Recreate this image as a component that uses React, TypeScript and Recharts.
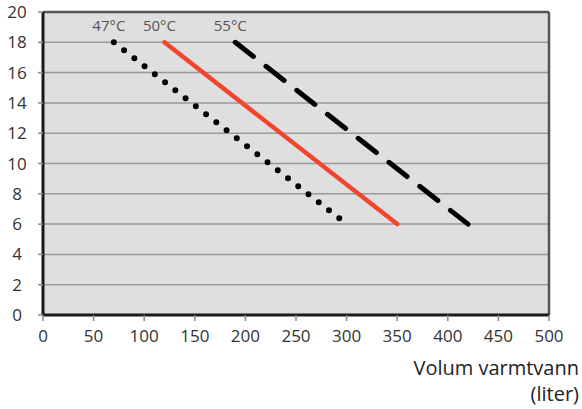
import { CartesianGrid, Line, LineChart, ReferenceLine, XAxis, YAxis } from "recharts"

const temperatures = ["47°C", "50°C", "55°C"]
const volume47 = [70, 300]
const volume50 = [120, 350]
const volume55 = [190, 420]
const yValues = [18, 6]
const xTicks = [0, 50, 100, 150, 200, 250, 300, 350, 400, 450, 500]
const yTicks = [0, 2, 4, 6, 8, 10, 12, 14, 16, 18, 20]

const toPoints = (volumes: number[]) =>
    volumes.map((v, i) => ({ volum: v, verdi: yValues[i] }))

const font = "'Open Sans', Roboto, sans-serif"

const seriesLabel = (name: string) => (props: any) => {
    if (props.index !== 0) return <g />
    return (
        <text
            x={props.x - 5}
            y={props.y - 11}
            textAnchor="middle"
            fontSize={15}
            fontFamily={font}
            fill="#555"
        >
            {name}
        </text>
    )
}

const YTick = (props: any) => (
    <text x={17} y={props.y} dy={6} textAnchor="middle" fontSize={17} fontFamily={font} fill="#333">
        {props.payload.value}
    </text>
)

export default function App() {
    return (
        <div style={{ position: "absolute", left: 0, top: 0, width: 582, height: 409 }}>
            <LineChart
                width={582}
                height={409}
                margin={{ top: 12, right: 33, left: 0, bottom: 64 }}
            >
                <CartesianGrid
                    vertical={false}
                    stroke="#999"
                    strokeWidth={1.5}
                    fill="#dfdfdf"
                    fillOpacity={1}
                />
                <XAxis
                    dataKey="volum"
                    type="number"
                    domain={[0, 500]}
                    ticks={xTicks}
                    height={30}
                    tickSize={6}
                    axisLine={{ stroke: "#1a1a1a", strokeWidth: 3 }}
                    tickLine={{ stroke: "#888", strokeWidth: 1.5 }}
                    tick={{ fontSize: 17, fontFamily: font, fill: "#333" }}
                    tickMargin={9}
                />
                <YAxis
                    type="number"
                    domain={[0, 20]}
                    ticks={yTicks}
                    width={43}
                    tickSize={5}
                    axisLine={{ stroke: "#1a1a1a", strokeWidth: 3 }}
                    tickLine={{ stroke: "#888", strokeWidth: 1.5 }}
                    tick={<YTick />}
                />
                <ReferenceLine y={20} stroke="#555" strokeWidth={2.5} />
                <ReferenceLine x={500} stroke="#555" strokeWidth={2.5} />
                <Line
                    data={toPoints(volume47)}
                    dataKey="verdi"
                    name={temperatures[0]}
                    stroke="#000"
                    strokeWidth={6}
                    strokeLinecap="round"
                    strokeDasharray="0 13"
                    dot={false}
                    activeDot={false}
                    label={seriesLabel(temperatures[0])}
                    isAnimationActive={false}
                />
                <Line
                    data={toPoints(volume50)}
                    dataKey="verdi"
                    name={temperatures[1]}
                    stroke="#f2452e"
                    strokeWidth={4.5}
                    strokeLinecap="round"
                    dot={false}
                    activeDot={false}
                    label={seriesLabel(temperatures[1])}
                    isAnimationActive={false}
                />
                <Line
                    data={toPoints(volume55)}
                    dataKey="verdi"
                    name={temperatures[2]}
                    stroke="#000"
                    strokeWidth={5}
                    strokeLinecap="round"
                    strokeDasharray="23 16"
                    dot={false}
                    activeDot={false}
                    label={seriesLabel(temperatures[2])}
                    isAnimationActive={false}
                />
            </LineChart>
            <div
                style={{
                    position: "absolute",
                    right: 3,
                    top: 355,
                    textAlign: "right",
                    fontFamily: font,
                    fontSize: 20,
                    lineHeight: "26px",
                    color: "#222",
                }}
            >
                Volum varmtvann
                <br />
                (liter)
            </div>
        </div>
    )
}
